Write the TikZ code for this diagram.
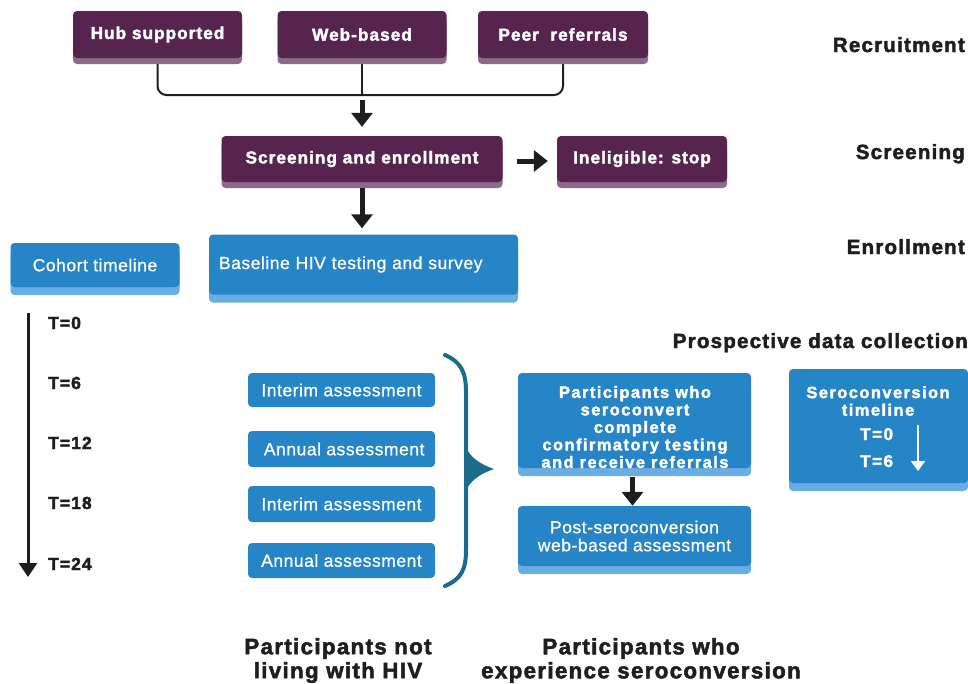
\documentclass[tikz,border=0pt]{standalone}
\usepackage{fontspec}
\setmainfont{Liberation Sans}
\newfontfamily\fB[LetterSpace=6,BoldFeatures={FakeBold=2.2}]{Liberation Sans}
\newfontfamily\fR[LetterSpace=3,FakeBold=0.8]{Liberation Sans}
\newfontfamily\fC[LetterSpace=9,BoldFeatures={FakeBold=2.2}]{Liberation Sans}
\usetikzlibrary{arrows.meta,shadows,backgrounds}
\definecolor{plum}{HTML}{57234F}
\definecolor{plumsh}{HTML}{8D6A89}
\definecolor{azure}{HTML}{2585C7}
\definecolor{azuresh}{HTML}{6AADE2}
\definecolor{bracecol}{HTML}{1B6C8B}
\definecolor{ink}{HTML}{1E1E1E}
\tikzset{
  pbox/.style={fill=plum, rounded corners=4pt, text=white, inner sep=0pt,
    font=\fB\bfseries\fontsize{17.2}{18}\selectfont,
    general shadow={shadow yshift=-6pt, fill=plumsh}},
  bbox/.style={fill=azure, rounded corners=4pt, text=white, inner sep=0pt,
    general shadow={shadow yshift=-8pt, fill=azuresh}},
  flatbox/.style={fill=azure, rounded corners=4pt, text=white, inner sep=0pt,
    font=\fR\fontsize{17.5}{19}\selectfont},
  regtext/.style={font=\fR\fontsize{17.5}{18}\selectfont},
  boldwhite/.style={text=white, inner sep=0pt, align=center,
    font=\fC\bfseries\fontsize{16.4}{17.5}\selectfont},
  stage/.style={font=\fB\bfseries\fontsize{20.5}{22}\selectfont, text=ink, inner sep=0pt},
  tlab/.style={font=\fB\bfseries\fontsize{17.5}{19}\selectfont, text=ink, inner sep=0pt},
  foot/.style={font=\fB\bfseries\fontsize{22.3}{24}\selectfont, text=ink, inner sep=0pt, align=center},
  bigarrow/.style={-{Triangle[width=21pt,length=14pt]}, line width=5pt, ink},
  conn/.style={line width=2pt, ink, rounded corners=9pt},
}
\begin{document}
\begin{tikzpicture}[x=1pt,y=-1pt]
\useasboundingbox (0,0) rectangle (968,683);
\clip (0,0) rectangle (968,683);

% recruitment
\node[pbox, minimum width=169pt, minimum height=47pt] (hub) at (157.5,34.5) {Hub supported};
\node[pbox, minimum width=169pt, minimum height=47pt] (web) at (362,34.5) {Web-based};
\node[pbox, minimum width=170pt, minimum height=47pt] (peer) at (563,34.5) {Peer\ \ referrals};
\coordinate (j) at (362,95);
\begin{scope}[on background layer]
  \draw[conn] (hub.south) |- (j) -| (peer.south);
  \draw[line width=2pt, ink] (web.south) -- (j);
\end{scope}

% screening
\node[pbox, minimum width=281pt, minimum height=46pt] (screen) at (362,159) {Screening and enrollment};
\node[pbox, minimum width=170pt, minimum height=46pt] (inel) at (642,159) {Ineligible: stop};
\draw[bigarrow] ([yshift=-5pt]j) -- ([yshift=9pt]screen.north);
\draw[bigarrow] ([xshift=14pt,yshift=-2pt]screen.east) -- ([xshift=-9pt,yshift=-2pt]inel.west);

% enrollment
\node[bbox, regtext, minimum width=309pt, minimum height=60pt, text width=289pt, align=left] (base) at (363.5,264.5) {Baseline HIV testing and survey};
\draw[bigarrow] ([yshift=-6pt]screen.south) -- ([yshift=6pt]screen.south |- base.north);
\node[bbox, regtext, minimum width=169pt, minimum height=44pt] (cohort) at (95,265) {Cohort timeline};

% stage labels
\node[stage, anchor=base east] (rec) at (965,52) {Recruitment};
\node[stage, anchor=base east] (scr) at (965,159) {Screening};
\node[stage, anchor=base east] (enr) at (965,254) {Enrollment};
\node[stage, anchor=base east] (pro) at (968,348) {Prospective data collection};

% cohort timeline
\coordinate (tl0) at (28,313);
\coordinate (tl1) at (28,577);
\draw[line width=3pt, ink, -{Triangle[width=18pt,length=14pt]}] (tl0) -- (tl1);
\node[tlab, anchor=base west] (T0) at (48,329) {T=0};
\node[tlab, anchor=base west] (T6) at (48,389) {T=6};
\node[tlab, anchor=base west] (T12) at (48,449) {T=12};
\node[tlab, anchor=base west] (T18) at (48,509) {T=18};
\node[tlab, anchor=base west] (T24) at (48,570) {T=24};

% assessments
\node[flatbox, minimum width=187pt, minimum height=34pt] (a1) at (341.5,390) {Interim assessment};
\node[flatbox, minimum width=187pt, minimum height=36pt] (a2) at (341.5,449) {\ Annual assessment};
\node[flatbox, minimum width=187pt, minimum height=36pt] (a3) at (341.5,504) {Interim assessment};
\node[flatbox, minimum width=187pt, minimum height=35pt] (a4) at (341.5,560.5) {Annual assessment};

% brace
\draw[bracecol, line width=4pt, line cap=round]
  (445,355) .. controls (461,362) and (466,372) .. (466,392) -- (466,452);
\draw[bracecol, line width=4pt, line cap=round]
  (466,486) -- (466,550) .. controls (466,570) and (461,579) .. (445,586);
\fill[bracecol] (464,444) .. controls (470,458) and (480,464) .. (494,469)
  .. controls (480,474) and (470,480) .. (464,494) -- cycle;

% seroconversion column
\node[bbox, minimum width=233pt, minimum height=95pt] (conv) at (634.5,420.5) {};
\node[boldwhite] (convtxt) at (635,427) {Participants who\\seroconvert\\complete\\confirmatory testing\\and receive referrals};
\node[bbox, regtext, minimum width=233pt, minimum height=60pt, align=center] (post) at (634.5,536) {Post-seroconversion\\web-based assessment};
\draw[bigarrow] ([xshift=-2pt,yshift=-9pt]conv.south) -- ([xshift=-2pt]post.north);

\node[bbox, minimum width=179pt, minimum height=114pt] (sero) at (878.5,426) {};
\node[boldwhite] (serotxt) at (878,401) {Seroconversion\\timeline};
\node[boldwhite, anchor=base west, font=\fC\bfseries\fontsize{17}{18}\selectfont] (S0) at (860,440) {T=0};
\node[boldwhite, anchor=base west, font=\fC\bfseries\fontsize{17}{18}\selectfont] (S6) at (860,467) {T=6};
\coordinate (sa) at (918,425);
\coordinate (sb) at (918,471);
\draw[white, line width=2pt, -{Triangle[width=14pt,length=10pt]}] (sa) -- (sb);

% footers
\node[foot] (notl) at (338,660.5) {Participants not\\living with HIV};
\node[foot] (expl) at (641,660.5) {Participants who\\experience seroconversion};
\end{tikzpicture}
\end{document}
